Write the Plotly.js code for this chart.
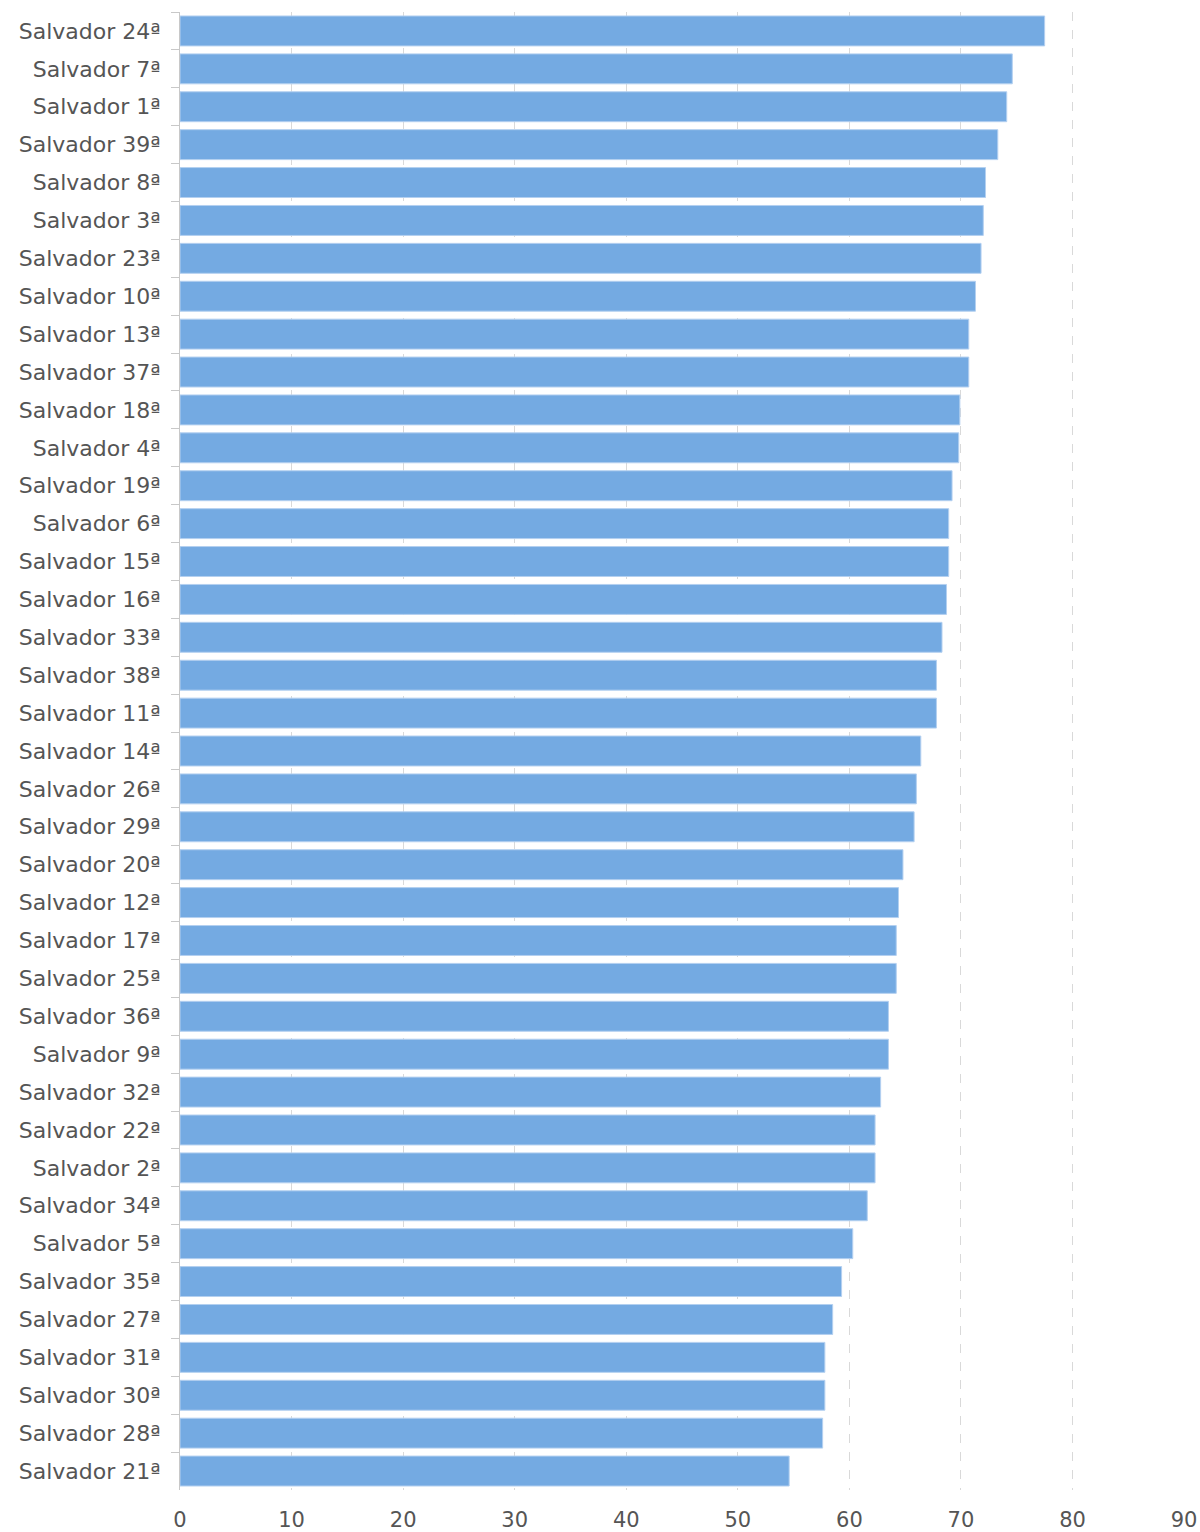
<!DOCTYPE html>
<html>
<head>
<meta charset="utf-8">
<script src="https://cdn.plot.ly/plotly-3.0.1.min.js"></script>
<style>
  html, body { margin: 0; padding: 0; background: #ffffff; }
  #chart { width: 1200px; height: 1532px; }
</style>
</head>
<body>
<div id="chart"></div>
<script>
const categories = [
  "Salvador 24ª", "Salvador 7ª", "Salvador 1ª", "Salvador 39ª", "Salvador 8ª",
  "Salvador 3ª", "Salvador 23ª", "Salvador 10ª", "Salvador 13ª", "Salvador 37ª",
  "Salvador 18ª", "Salvador 4ª", "Salvador 19ª", "Salvador 6ª", "Salvador 15ª",
  "Salvador 16ª", "Salvador 33ª", "Salvador 38ª", "Salvador 11ª", "Salvador 14ª",
  "Salvador 26ª", "Salvador 29ª", "Salvador 20ª", "Salvador 12ª", "Salvador 17ª",
  "Salvador 25ª", "Salvador 36ª", "Salvador 9ª", "Salvador 32ª", "Salvador 22ª",
  "Salvador 2ª", "Salvador 34ª", "Salvador 5ª", "Salvador 35ª", "Salvador 27ª",
  "Salvador 31ª", "Salvador 30ª", "Salvador 28ª", "Salvador 21ª"
];
const values = [
  77.5, 74.6, 74.1, 73.3, 72.2,
  72.0, 71.8, 71.3, 70.7, 70.7,
  69.9, 69.8, 69.2, 68.9, 68.9,
  68.7, 68.3, 67.8, 67.8, 66.4,
  66.0, 65.8, 64.8, 64.4, 64.2,
  64.2, 63.5, 63.5, 62.8, 62.3,
  62.3, 61.6, 60.3, 59.3, 58.5,
  57.8, 57.8, 57.6, 54.6
];
const xTicks = [0, 10, 20, 30, 40, 50, 60, 70, 80, 90];

const trace = {
  type: "bar",
  orientation: "h",
  x: values,
  y: categories,
  marker: {
    color: "#74aae2",
    line: { color: "#b4d0f0", width: 1 }
  },
  hoverinfo: "x+y"
};

const layout = {
  width: 1200,
  height: 1532,
  margin: { l: 180, r: 15, t: 12, b: 42 },
  paper_bgcolor: "#ffffff",
  plot_bgcolor: "#ffffff",
  showlegend: false,
  bargap: 0.21,
  font: { family: "DejaVu Sans, sans-serif", size: 22, color: "#555555" },
  xaxis: {
    range: [0, 90.08],
    tickvals: xTicks,
    ticktext: xTicks.map(String),
    showgrid: true,
    gridcolor: "#d9d9d9",
    griddash: "dash",
    gridwidth: 1,
    zeroline: false,
    showline: false,
    ticks: "outside",
    ticklen: 11,
    tickcolor: "rgba(0,0,0,0)",
    tickfont: { family: "DejaVu Sans, sans-serif", size: 21, color: "#555555" },
    fixedrange: true
  },
  yaxis: {
    type: "category",
    autorange: "reversed",
    showgrid: false,
    zeroline: false,
    showline: true,
    linecolor: "#c8c8c8",
    linewidth: 1,
    ticks: "outside",
    tickson: "boundaries",
    ticklen: 8,
    tickcolor: "#c8c8c8",
    ticklabelstandoff: 14,
    tickfont: { family: "DejaVu Sans, sans-serif", size: 22, color: "#555555" },
    fixedrange: true
  }
};

Plotly.newPlot("chart", [trace], layout, { displayModeBar: false, staticPlot: true });
</script>
</body>
</html>
